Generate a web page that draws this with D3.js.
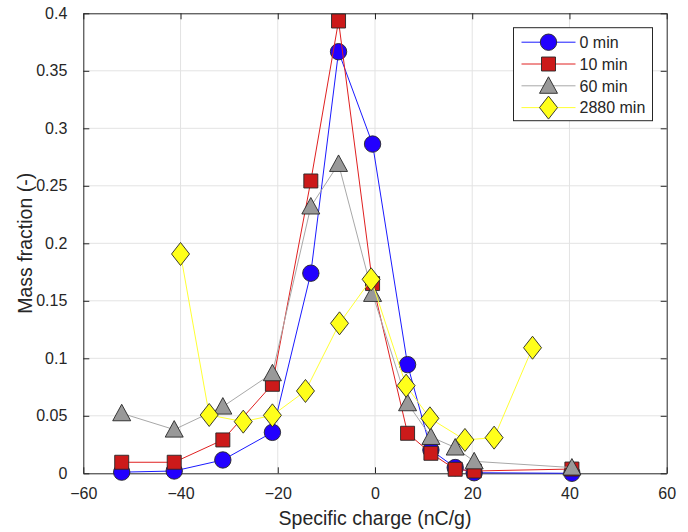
<!DOCTYPE html>
<html>
<head>
<meta charset="utf-8">
<script src="https://cdn.jsdelivr.net/npm/d3@7"></script>
<style>
  body { margin: 0; background: #fff; }
  text { font-family: "Liberation Sans", Arial, sans-serif; fill: #262626; }
</style>
</head>
<body>
<div id="chart"></div>
<script>
var svgWidth = 688;
var svgHeight = 532;

var margin = { top: 13.3, right: 21.3, bottom: 58.7, left: 83.3 };
var width = svgWidth - margin.left - margin.right;
var height = svgHeight - margin.top - margin.bottom;

// data
var x0 = [-52.1, -41.3, -31.3, -21.1, -13.2, -7.5, -0.5, 6.7, 11.5, 16.5, 20.4, 40.5];
var y0 = [0.001, 0.002, 0.0116, 0.0356, 0.174, 0.3666, 0.2863, 0.0945, 0.0203, 0.005, 0.0005, 0.0];

var x10 = [-52.1, -41.3, -31.3, -21.1, -13.2, -7.5, -0.5, 6.7, 11.5, 16.5, 20.4, 40.5];
var y10 = [0.0096, 0.0096, 0.029, 0.0774, 0.2542, 0.3933, 0.165, 0.0348, 0.0174, 0.0035, 0.002, 0.0037];

var x60 = [-52.1, -41.3, -31.3, -21.1, -13.2, -7.5, -0.5, 6.7, 11.5, 16.5, 20.4, 40.5];
var y60 = [0.0522, 0.038, 0.058, 0.087, 0.232, 0.269, 0.156, 0.0609, 0.0316, 0.0224, 0.0104, 0.005];

var x2880 = [-40.0, -34.1, -27.1, -21.1, -14.3, -7.3, -0.8, 6.4, 11.3, 18.5, 24.5, 32.4];
var y2880 = [0.1907, 0.0507, 0.0449, 0.0504, 0.0716, 0.1304, 0.1687, 0.0762, 0.0478, 0.029, 0.031, 0.1092];

var seriesNames = ["0 min", "10 min", "60 min", "2880 min"];
var xTicks = [-60, -40, -20, 0, 20, 40, 60];
var yTicks = [0, 0.05, 0.1, 0.15, 0.2, 0.25, 0.3, 0.35, 0.4];

var series = [
  { name: seriesNames[0], xs: x0, ys: y0, line: "#1a1aff", fill: "#2200ff", shape: "circle" },
  { name: seriesNames[1], xs: x10, ys: y10, line: "#e02020", fill: "#cc1a1a", shape: "square" },
  { name: seriesNames[2], xs: x60, ys: y60, line: "#a8a8a8", fill: "#999999", shape: "triangle" },
  { name: seriesNames[3], xs: x2880, ys: y2880, line: "#ffff33", fill: "#ffff1a", shape: "diamond" }
];

var svg = d3.select("#chart")
  .append("svg")
  .attr("width", svgWidth)
  .attr("height", svgHeight);

var chartGroup = svg.append("g")
  .attr("transform", `translate(${margin.left}, ${margin.top})`);

var xLinearScale = d3.scaleLinear().domain([-60, 60]).range([0, width]);
var yLinearScale = d3.scaleLinear().domain([0, 0.4]).range([height, 0]);

// grid
chartGroup.append("g")
  .selectAll("line")
  .data(xTicks.slice(1, -1))
  .enter()
  .append("line")
  .attr("x1", d => xLinearScale(d)).attr("x2", d => xLinearScale(d))
  .attr("y1", 0).attr("y2", height)
  .attr("stroke", "#e3e3e3").attr("stroke-width", 1);

chartGroup.append("g")
  .selectAll("line")
  .data(yTicks.slice(1, -1))
  .enter()
  .append("line")
  .attr("y1", d => yLinearScale(d)).attr("y2", d => yLinearScale(d))
  .attr("x1", 0).attr("x2", width)
  .attr("stroke", "#e3e3e3").attr("stroke-width", 1);

// axes (ticks inward, box on)
function styleAxis(g) {
  g.select(".domain").attr("stroke", "#262626");
  g.selectAll(".tick line").attr("stroke", "#262626");
  g.selectAll(".tick text").style("font-size", "16px").attr("fill", "#262626");
}

var bottomAxis = d3.axisBottom(xLinearScale).tickValues(xTicks)
  .tickSizeInner(-6).tickSizeOuter(0).tickPadding(14).tickFormat(d3.format("d"));
var leftAxis = d3.axisLeft(yLinearScale).tickValues(yTicks)
  .tickSizeInner(-6).tickSizeOuter(0).tickPadding(16).tickFormat(d => d === 0 ? "0" : String(+d.toFixed(2)));

chartGroup.append("g")
  .attr("transform", `translate(0, ${height})`)
  .call(bottomAxis)
  .call(styleAxis);

chartGroup.append("g")
  .call(leftAxis)
  .call(styleAxis);

chartGroup.append("g")
  .call(d3.axisTop(xLinearScale).tickValues(xTicks).tickSizeInner(-6).tickSizeOuter(0).tickFormat(""))
  .call(styleAxis);

chartGroup.append("g")
  .attr("transform", `translate(${width}, 0)`)
  .call(d3.axisRight(yLinearScale).tickValues(yTicks).tickSizeInner(-6).tickSizeOuter(0).tickFormat(""))
  .call(styleAxis);

// markers
var symbols = {
  circle: d3.symbol().type(d3.symbolCircle).size(Math.PI * 8.2 * 8.2),
  square: d3.symbol().type(d3.symbolSquare).size(14 * 14),
  triangle: d3.symbol().type(d3.symbolTriangle).size(150)
};

function markerPath(shape) {
  if (shape === "diamond") return "M0,-11.5L9,0L0,11.5L-9,0Z";
  if (shape === "triangle") return "M0,-9L9,7.5L-9,7.5Z";
  return symbols[shape]();
}

series.forEach(function(s) {
  var pts = s.xs.map((x, i) => [x, s.ys[i]]);
  var g = chartGroup.append("g");
  g.append("path")
    .datum(pts)
    .attr("fill", "none")
    .attr("stroke", s.line)
    .attr("stroke-width", 1)
    .attr("d", d3.line().x(d => xLinearScale(d[0])).y(d => yLinearScale(d[1])));
  g.selectAll("path.mk")
    .data(pts)
    .enter()
    .append("path")
    .classed("mk", true)
    .attr("transform", d => `translate(${xLinearScale(d[0])}, ${yLinearScale(d[1])})`)
    .attr("d", markerPath(s.shape))
    .attr("fill", s.fill)
    .attr("stroke", "#262626")
    .attr("stroke-width", 0.9);
});

// axis labels
chartGroup.append("text")
  .attr("x", width / 2)
  .attr("y", height + 52)
  .attr("text-anchor", "middle")
  .style("font-size", "19.5px")
  .text("Specific charge (nC/g)");

svg.append("text")
  .attr("transform", `translate(32, ${margin.top + height / 2}) rotate(-90)`)
  .attr("text-anchor", "middle")
  .style("font-size", "19.5px")
  .text("Mass fraction (-)");

// legend
var legend = svg.append("g").attr("transform", "translate(513.5, 27.7)");
legend.append("rect")
  .attr("width", 139).attr("height", 93)
  .attr("fill", "#fff").attr("stroke", "#262626").attr("stroke-width", 1);

series.forEach(function(s, i) {
  var ly = 14.5 + i * 21.8;
  legend.append("line")
    .attr("x1", 8).attr("x2", 62).attr("y1", ly).attr("y2", ly)
    .attr("stroke", s.line).attr("stroke-width", 1);
  legend.append("path")
    .attr("transform", `translate(35, ${ly})`)
    .attr("d", markerPath(s.shape))
    .attr("fill", s.fill)
    .attr("stroke", "#262626")
    .attr("stroke-width", 0.9);
  legend.append("text")
    .attr("x", 66).attr("y", ly + 5.8)
    .style("font-size", "16px")
    .text(s.name);
});
</script>
</body>
</html>
